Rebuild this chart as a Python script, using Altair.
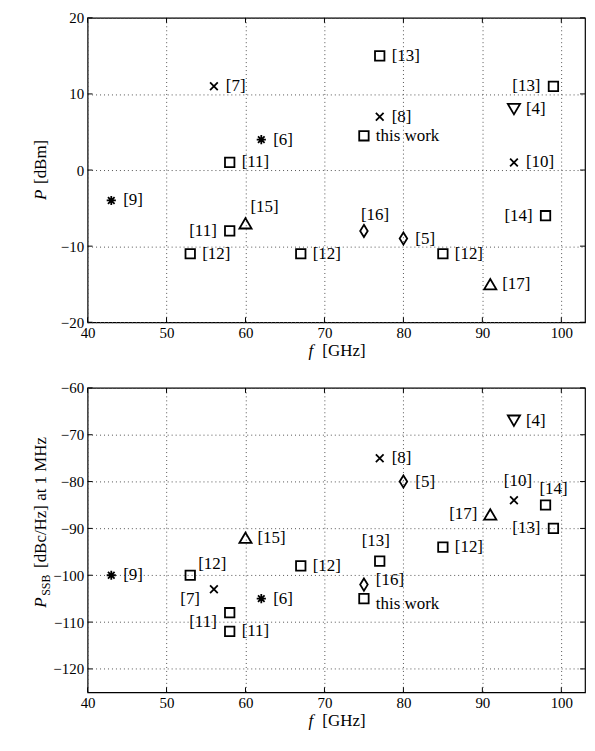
import altair as alt
import pandas as pd

# ---------------- data ----------------
x_ticks = [40, 50, 60, 70, 80, 90, 100]
top_y_ticks = [-20, -10, 0, 10, 20]
bot_y_ticks = [-120, -110, -100, -90, -80, -70, -60]

top_f = [43, 56, 62, 58, 60, 58, 53, 67, 77, 77, 75, 75, 80, 85, 91, 99, 94, 94, 98]
top_P = [-4, 11, 4, 1, -7, -8, -11, -11, 15, 7, 4.5, -8, -9, -11, -15, 11, 8, 1, -6]
top_ref = ["[9]", "[7]", "[6]", "[11]", "[15]", "[11]", "[12]", "[12]", "[13]", "[8]",
           "this work", "[16]", "[5]", "[12]", "[17]", "[13]", "[4]", "[10]", "[14]"]
top_marker = ["asterisk", "x", "asterisk", "square", "triangle-up", "square", "square",
              "square", "square", "x", "square", "diamond", "diamond", "square",
              "triangle-up", "square", "triangle-down", "x", "square"]

bot_f = [43, 53, 56, 58, 58, 60, 62, 67, 77, 75, 75, 77, 80, 85, 91, 94, 98, 99, 94]
bot_P = [-100, -100, -103, -108, -112, -92, -105, -98, -97, -102, -105, -75, -80, -94,
         -87, -84, -85, -90, -67]
bot_ref = ["[9]", "[12]", "[7]", "[11]", "[11]", "[15]", "[6]", "[12]", "[13]", "[16]",
           "this work", "[8]", "[5]", "[12]", "[17]", "[10]", "[14]", "[13]", "[4]"]
bot_marker = ["asterisk", "square", "x", "square", "square", "triangle-up", "asterisk",
              "square", "square", "diamond", "square", "x", "diamond", "square",
              "triangle-up", "x", "square", "square", "triangle-down"]

# ---------------- layout / style (not data) ----------------
top_place = ["r", "r", "r", "r", "tr15", "l", "r", "r", "r", "r", "r", "t16", "r", "r",
             "r", "l", "r", "r", "l"]
bot_place = ["r", "tr12", "bl", "ldn", "r", "r", "r", "r", "t13", "rup", "rdn", "r", "r",
             "r", "l", "t10", "t14", "l", "r"]
PLACES = {
    "r": ("left", 12, 0),
    "l": ("right", -13, 0),
    "tr15": ("left", 5, -16),
    "t16": ("left", -3, -16),
    "tr12": ("left", 8, -11),
    "bl": ("right", -14, 10),
    "ldn": ("right", -13, 9),
    "t13": ("center", -4, -20),
    "rup": ("left", 12, -5),
    "rdn": ("left", 12, 5),
    "t10": ("center", 4, -19),
    "t14": ("center", 8, -16),
}
SHAPES = {
    "square": ("M-1,-1H1V1H-1Z", 90),
    "x": ("M-1,-1L1,1M-1,1L1,-1", 60),
    "asterisk": ("M-1,0H1M0,-1V1M-0.72,-0.72L0.72,0.72M-0.72,0.72L0.72,-0.72", 85),
    "triangle-up": ("M0,-0.85L1,0.85H-1Z", 150),
    "triangle-down": ("M0,0.85L1,-0.85H-1Z", 150),
    "diamond": ("M0,-1L0.62,0L0,1L-0.62,0Z", 150),
}

FONT = "Liberation Serif"
W, H = 500, 306
TS = 5  # inner tick length


def make_panel(f, P, refs, markers, places, ydom, yticks, ytitle):
    df = pd.DataFrame({"f": f, "P": P, "ref": refs, "marker": markers, "place": places})
    xs = alt.Scale(domain=[40, 103], nice=False, zero=False)
    ys = alt.Scale(domain=ydom, nice=False, zero=False)
    xaxis = alt.Axis(values=x_ticks, format="d", title=None, grid=True, labelFlush=False,
                     labelOverlap=False, labelPadding=3)
    yaxis = alt.Axis(values=yticks, format="d", title=None, grid=True, labelOverlap=False,
                     labelPadding=4)
    X = lambda fld: alt.X(fld, scale=xs, axis=xaxis)
    Y = lambda fld: alt.Y(fld, scale=ys, axis=yaxis)

    layers = []
    # inner ticks
    xt = alt.Chart(pd.DataFrame({"t": x_ticks}))
    yt = alt.Chart(pd.DataFrame({"t": yticks}))
    layers.append(xt.mark_rule(color="black", strokeWidth=1).encode(
        x=X("t:Q"), y=alt.value(0), y2=alt.value(TS)))
    layers.append(xt.mark_rule(color="black", strokeWidth=1).encode(
        x=X("t:Q"), y=alt.value(H), y2=alt.value(H - TS)))
    layers.append(yt.mark_rule(color="black", strokeWidth=1).encode(
        y=Y("t:Q"), x=alt.value(0), x2=alt.value(TS)))
    layers.append(yt.mark_rule(color="black", strokeWidth=1).encode(
        y=Y("t:Q"), x=alt.value(W), x2=alt.value(W - TS)))

    base = alt.Chart(df)
    for name, (path, size) in SHAPES.items():
        if name not in markers:
            continue
        layers.append(base.transform_filter(alt.datum.marker == name).mark_point(
            shape=path, size=size, filled=False, stroke="black", strokeWidth=1.8,
            opacity=1).encode(x=X("f:Q"), y=Y("P:Q")))
    for code in dict.fromkeys(places):
        align, dx, dy = PLACES[code]
        layers.append(base.transform_filter(alt.datum.place == code).mark_text(
            align=align, baseline="middle", dx=dx, dy=dy, font=FONT, fontSize=17,
            color="black").encode(x=X("f:Q"), y=Y("P:Q"), text="ref:N"))

    one = alt.Data(values=[{}])

    def txt(s, x, y, size=17, italic=False, angle=0, align="left"):
        return alt.Chart(one).mark_text(
            text=s, font=FONT, fontSize=size, fontStyle="italic" if italic else "normal",
            angle=angle, align=align, baseline="middle", color="black").encode(
            x=alt.value(x), y=alt.value(y))

    # x title: f [GHz]
    layers.append(txt("f", 222, H + 29, italic=True))
    layers.append(txt("[GHz]", 236, H + 29))
    # y title
    for part in ytitle:
        layers.append(txt(*part))
    return alt.layer(*layers).properties(width=W, height=H)


top = make_panel(top_f, top_P, top_ref, top_marker, top_place, [-20, 20], top_y_ticks,
                 [("P", -47, 183, 17, True, 270), ("[dBm]", -47, 167, 17, False, 270)])
bot = make_panel(bot_f, bot_P, bot_ref, bot_marker, bot_place, [-125, -60], bot_y_ticks,
                 [("P", -47, 221, 17, True, 270), ("SSB", -42, 209, 12, False, 270),
                  ("[dBc/Hz] at 1 MHz", -47, 181, 17, False, 270)])

chart = alt.vconcat(top, bot, spacing=66, bounds="flush").properties(
    padding={"left": 23, "top": 0, "right": 0, "bottom": 0}
).configure_view(stroke="black", strokeWidth=1.2).configure_axis(
    domain=False, ticks=False, gridDash=[1, 3], gridColor="#555", gridWidth=1,
    gridOpacity=1, labelFont=FONT, labelFontSize=15, labelColor="black"
)

chart.save("out.html", embed_options={"renderer": "svg", "actions": False})
